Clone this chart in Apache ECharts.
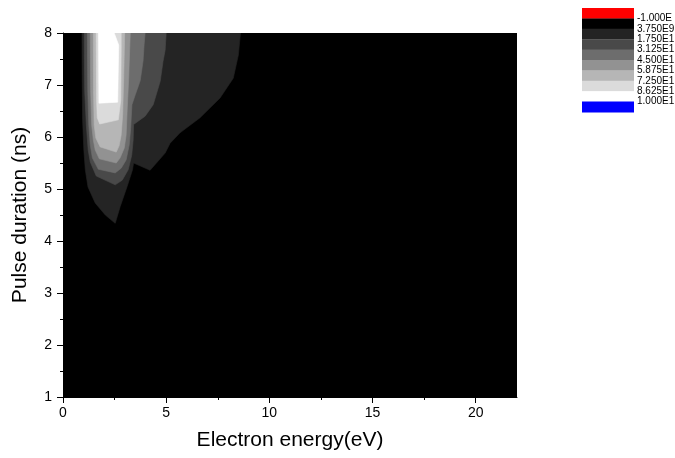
<!DOCTYPE html>
<html>
<head>
<meta charset="utf-8">
<script src="https://cdn.jsdelivr.net/npm/echarts@6/dist/echarts.min.js"></script>
<style>
  html, body { margin: 0; padding: 0; background: #ffffff; }
  #chart { width: 675px; height: 458px; }
</style>
</head>
<body>
<div id="chart"></div>
<script>
// Filled contour map of the signal against electron energy (eV) and pulse duration (ns).
// Each outline encloses the region at or above one contour level; the bands are
// painted from the lowest level upward so every band sits on the one below it.

const energyRange = [0, 22];
const durationRange = [1, 8];

const energyTicks = [0, 5, 10, 15, 20];
const energyMinorTicks = [2.5, 7.5, 12.5, 17.5];
const durationTicks = [1, 2, 3, 4, 5, 6, 7, 8];
const durationMinorTicks = [1.5, 2.5, 3.5, 4.5, 5.5, 6.5, 7.5];

// Level scale (text as printed beside the colour key)
const levelLabels = ['-1.000E', '3.750E9', '1.750E1', '3.125E1', '4.500E1', '5.875E1', '7.250E1', '8.625E1', '1.000E1'];
const keyColors = ['#ff0000', '#000000', '#242424', '#494949', '#6d6d6d', '#929292', '#b6b6b6', '#dbdbdb', '#ffffff', '#0000ff'];
const bandColors = ['#000000', '#242424', '#494949', '#6d6d6d', '#929292', '#b6b6b6', '#dbdbdb', '#ffffff'];

// Contour outlines, [energy (eV), duration (ns)]
const band0 = [[0, 1], [22, 1], [22, 8], [0, 8]];
const band1 = [[0.92, 8.00], [0.93, 7.10], [0.95, 6.33], [1.01, 5.75], [1.08, 5.37], [1.21, 5.04], [1.56, 4.73], [2.05, 4.50], [2.53, 4.34], [2.77, 4.66], [3.10, 5.04], [3.37, 5.37], [3.42, 5.50], [4.22, 5.36], [4.95, 5.69], [5.19, 5.88], [5.67, 6.08], [6.64, 6.37], [7.61, 6.75], [8.25, 7.13], [8.50, 7.58], [8.60, 8.00]];
const band2 = [[1.03, 8.00], [1.05, 6.90], [1.13, 6.23], [1.22, 5.75], [1.32, 5.52], [1.61, 5.25], [2.53, 5.08], [2.87, 5.17], [3.16, 5.37], [3.33, 5.65], [3.40, 5.94], [3.42, 6.24], [3.98, 6.40], [4.37, 6.62], [4.71, 7.07], [4.85, 7.46], [4.95, 7.67], [5.00, 8.00]];
const band3 = [[1.18, 8.00], [1.20, 6.90], [1.25, 6.23], [1.32, 5.85], [1.42, 5.60], [1.71, 5.38], [2.53, 5.31], [2.82, 5.40], [3.06, 5.56], [3.21, 5.85], [3.28, 6.17], [3.34, 6.62], [3.50, 6.81], [3.74, 7.08], [3.88, 7.46], [3.93, 7.77], [3.98, 8.00]];
const band4 = [[1.32, 8.00], [1.34, 6.90], [1.39, 6.23], [1.47, 5.94], [1.56, 5.75], [1.76, 5.58], [2.58, 5.50], [2.77, 5.60], [2.97, 5.79], [3.06, 6.04], [3.11, 6.52], [3.18, 7.10], [3.23, 7.67], [3.26, 8.00]];
const band5 = [[1.47, 8.00], [1.48, 6.90], [1.51, 6.23], [1.59, 5.98], [1.80, 5.81], [2.58, 5.71], [2.72, 5.83], [2.82, 6.04], [2.89, 6.42], [2.94, 7.10], [2.99, 8.00]];
const band6 = [[1.61, 8.00], [1.63, 6.71], [1.66, 6.37], [1.78, 6.25], [2.68, 6.33], [2.80, 6.71], [2.82, 7.77], [2.82, 8.00]];
const band7 = [[1.72, 8.00], [1.74, 6.65], [2.65, 6.67], [2.70, 7.77], [2.48, 8.00]];

const bands = [band0, band1, band2, band3, band4, band5, band6, band7];

const FONT = 'Liberation Sans, Arial, sans-serif';

const chart = echarts.init(document.getElementById('chart'), null, { renderer: 'canvas' });

// Colour key: stacked swatches with the level values at the swatch boundaries
const keyLeft = 582, keyTop = 8, keyW = 52, keyH = 10.4;
const keyGraphics = [];
keyColors.forEach(function (c, i) {
  keyGraphics.push({
    type: 'rect',
    left: keyLeft, top: keyTop + i * keyH,
    shape: { width: keyW, height: keyH + 0.4 },
    style: { fill: c }
  });
});
levelLabels.forEach(function (t, i) {
  keyGraphics.push({
    type: 'text',
    x: keyLeft + keyW + 3,
    y: keyTop + (i + 1) * keyH,
    style: { text: t, fill: '#000', font: '10px ' + FONT, textVerticalAlign: 'middle', textAlign: 'left' }
  });
});

const axisCommon = {
  axisLine: { show: true, onZero: false, lineStyle: { color: '#000', width: 1 } },
  splitLine: { show: false }
};

chart.setOption({
  animation: false,
  backgroundColor: '#ffffff',
  grid: { left: 63, top: 33, width: 454, height: 364, containLabel: false },
  xAxis: [
    Object.assign({}, axisCommon, {
      type: 'value', min: energyRange[0], max: energyRange[1],
      name: 'Electron energy(eV)', nameLocation: 'middle', nameGap: 33,
      nameTextStyle: { fontSize: 21, color: '#000', fontFamily: FONT },
      axisTick: { show: true, inside: false, length: 6, customValues: energyTicks, lineStyle: { color: '#000' } },
      axisLabel: { show: true, customValues: energyTicks, margin: 9, fontSize: 14, color: '#000', fontFamily: FONT }
    }),
    {
      type: 'value', min: energyRange[0], max: energyRange[1], position: 'bottom',
      axisLine: { show: false }, splitLine: { show: false },
      axisTick: { show: true, inside: false, length: 3, customValues: energyMinorTicks, lineStyle: { color: '#000' } },
      axisLabel: { show: false }
    }
  ],
  yAxis: [
    Object.assign({}, axisCommon, {
      type: 'value', min: durationRange[0], max: durationRange[1],
      name: 'Pulse duration (ns)', nameLocation: 'middle', nameGap: 32,
      nameTextStyle: { fontSize: 21, color: '#000', fontFamily: FONT },
      axisTick: { show: true, inside: false, length: 6, customValues: durationTicks, lineStyle: { color: '#000' } },
      axisLabel: { show: true, customValues: durationTicks, margin: 11, fontSize: 14, color: '#000', fontFamily: FONT }
    }),
    {
      type: 'value', min: durationRange[0], max: durationRange[1], position: 'left',
      axisLine: { show: false }, splitLine: { show: false },
      axisTick: { show: true, inside: false, length: 3, customValues: durationMinorTicks, lineStyle: { color: '#000' } },
      axisLabel: { show: false }
    }
  ],
  series: [{
    type: 'custom',
    coordinateSystem: 'cartesian2d',
    xAxisIndex: 0, yAxisIndex: 0,
    clip: true,
    silent: true,
    data: bands.map(function (b, i) { return [b[0][0], b[0][1], i]; }),
    renderItem: function (params, api) {
      const i = params.dataIndex;
      const pts = bands[i].map(function (p) { return api.coord(p); });
      return {
        type: 'polygon',
        shape: { points: pts },
        style: { fill: bandColors[i], stroke: bandColors[i], lineWidth: 0.6 }
      };
    }
  }],
  graphic: keyGraphics
});
</script>
</body>
</html>
